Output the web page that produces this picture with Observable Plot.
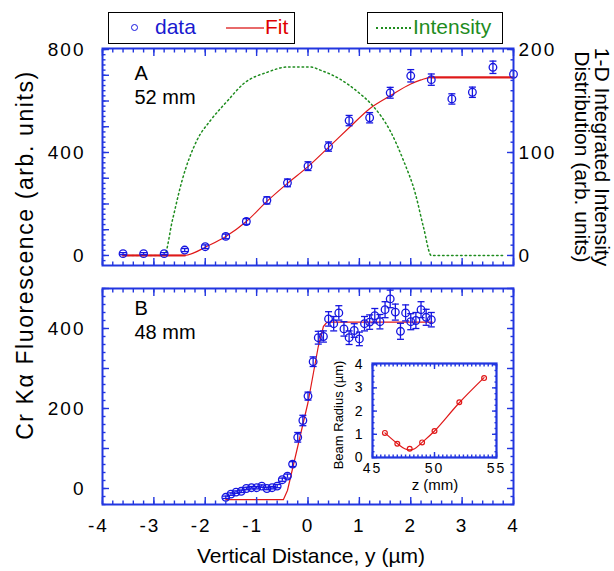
<!DOCTYPE html>
<html><head><meta charset="utf-8">
<script src="https://cdn.jsdelivr.net/npm/d3@7"></script>
<script src="https://cdn.jsdelivr.net/npm/@observablehq/plot@0.6"></script>
<style>
body{margin:0;background:#fff;font-family:"Liberation Sans",Arial,sans-serif;}
#root{position:relative;width:614px;height:571px;overflow:hidden;}
.abs{position:absolute;}
#root svg{position:absolute;overflow:visible;}
g[aria-label$="tick label"] text{letter-spacing:2px;}
.box{position:absolute;border:1px solid #000;box-sizing:border-box;height:32px;top:12px;background:#fff;}
</style></head><body><div id="root"></div>
<script>
// ---------- data ----------
// Panel A (52 mm): data points
const aX   = [-3.6,-3.2,-2.8,-2.4,-2.0,-1.6,-1.2,-0.8,-0.4,0.0,0.4,0.8,1.2,1.6,2.0,2.4,2.8,3.2,3.6,4.0];
const aY   = [7,7,7,21,34,74,132,214,282,347,423,524,535,632,698,683,608,634,731,704];
const aErr = [4,4,4,6,7,9,11,14,15,17,18,20,20,21,24,22,20,20,24,0];
// Panel A fit
const aFitX = [-3.6,-2.4,-2.2,-2.0,-1.6,-1.2,-0.8,-0.4,0.0,0.4,0.8,1.2,1.6,2.0,2.2,2.4,4.0];
const aFitY = [0,0,12,32,74,132,210,280,345,420,496,570,620,666,682,692,692];
// Panel A intensity (right axis, 0-200)
const intX = [-3.6,-2.8,-2.64,-2.45,-2.16,-1.9,-1.57,-1.25,-0.79,-0.4,-0.15,0.05,0.24,0.63,0.99,1.25,1.6,1.86,2.09,2.25,2.4,3.8];
const intY = [0,0,34,73,112,131,150,167,178,183,183,183,180,171,158,146,121,92,60,27,0,0];
// Panel B (48 mm): data points
const bX = [-1.6,-1.5,-1.4,-1.3,-1.2,-1.1,-1.0,-0.9,-0.8,-0.7,-0.6,-0.5,-0.4,-0.3,-0.2,-0.1,0.0,
            0.1,0.2,0.3,0.4,0.5,0.6,0.7,0.8,0.9,1.0,1.1,1.2,1.3,1.4,1.5,1.6,1.7,1.8,1.9,2.0,2.1,2.2,2.3,2.4];
const bY = [-22,-14,-9,-7,0,2,2,6,0,2,6,22,31,61,128,170,231,
            317,377,380,424,412,439,399,377,395,374,412,416,432,417,447,474,441,393,439,417,420,447,428,422];
const bErr = [3,3,3,3,3,3,3,3,3,3,4,4,5,6,12,13,10,
              12,16,14,18,18,18,18,17,17,17,18,18,18,18,20,22,20,20,20,20,20,20,20,18];
// Panel B fit
const bFitX = [-1.6,-0.48,-0.4,-0.3,-0.2,-0.1,0.0,0.1,0.2,0.3,0.37,2.42];
const bFitY = [-28,-28,-5,50,105,160,215,285,355,405,416,416];
// Inset: beam radius vs z
const zPts = [46,47,48,49,50,52,54];
const rPts = [1.06,0.59,0.38,0.65,1.14,2.38,3.42];
const zFit = [46,47,47.6,48,48.4,49,50,52,54];
const rFit = [1.06,0.6,0.38,0.33,0.38,0.65,1.14,2.36,3.44];
// tick labels
const xLabelsNeg = [-4,-3,-2,-1];
const xLabelsPos = [0,1,2,3,4];
const aLeftLabels = [0,400,800];
const aRightLabels = [0,100,200];
const bLeftLabels = [0,200,400];
const insetXLabels = [45,50,55];
const insetYLabels = [0,1,2,3,4];

// ---------- style ----------
const BLUE = "#2236e0", RED = "#e01818", PINK = "#e86a6a", GREEN = "#1e8c1e", PTBLUE = "#1616e0";
const FONT = "Liberation Sans, Arial, sans-serif";
const root = document.getElementById("root");

const ptsA = aX.map((x,i)=>({x, y:aY[i], e:aErr[i]}));
const fitA = aFitX.map((x,i)=>({x, y:aFitY[i]}));
const intA = intX.map((x,i)=>({x, v:intY[i]}));
const ptsB = bX.map((x,i)=>({x, y:bY[i], e:bErr[i]}));
const fitB = bFitX.map((x,i)=>({x, y:bFitY[i]}));
const ins = zPts.map((z,i)=>({z, r:rPts[i]}));
const insFit = zFit.map((z,i)=>({z, r:rFit[i]}));

const cap = {draw(ctx, size){ const w = Math.sqrt(size/Math.PI); ctx.moveTo(-w,0); ctx.lineTo(w,0); }};
const rng = (a,b,s) => d3.range(Math.round((b-a)/s)+1).map(i => +(a+i*s).toFixed(4));

function tickAxes(o){
  const s = {stroke: BLUE, fill: "none", strokeWidth: 1.4, label: null};
  return [
    Plot.axisX({...s, anchor:"bottom", ticks:o.xMin, tickSize:-o.min}),
    Plot.axisX({...s, anchor:"bottom", ticks:o.xMaj, tickSize:-o.maj}),
    Plot.axisX({...s, anchor:"top", ticks:o.xMin, tickSize:-o.min}),
    Plot.axisX({...s, anchor:"top", ticks:o.xMaj, tickSize:-o.maj}),
    Plot.axisY({...s, anchor:"left", ticks:o.yMin, tickSize:-o.min}),
    Plot.axisY({...s, anchor:"left", ticks:o.yMaj, tickSize:-o.maj}),
    Plot.axisY({...s, anchor:"right", ticks:o.yMinR, tickSize:-o.min}),
    Plot.axisY({...s, anchor:"right", ticks:o.yMajR, tickSize:-o.maj}),
  ];
}
function errMarks(pts){
  return [
    Plot.ruleX(pts, {x:"x", y1:d=>d.y-d.e, y2:d=>d.y+d.e, stroke:PTBLUE, strokeWidth:1.3, filter:d=>d.e>0}),
    Plot.dot(pts, {x:"x", y:d=>d.y+d.e, symbol:cap, r:3.5, stroke:PTBLUE, strokeWidth:1.3, filter:d=>d.e>0}),
    Plot.dot(pts, {x:"x", y:d=>d.y-d.e, symbol:cap, r:3.5, stroke:PTBLUE, strokeWidth:1.3, filter:d=>d.e>0}),
    Plot.dot(pts, {x:"x", y:"y", r:3.8, stroke:PTBLUE, strokeWidth:1.3, fill:"none"}),
  ];
}
const xMaj = rng(-4,4,1), xMin = rng(-4,4,0.2);

// ---------- Panel A ----------
const plotA = Plot.plot({
  width:614, height:290, marginTop:48, marginBottom:25, marginLeft:102, marginRight:101,
  style:{fontFamily:FONT, fontSize:"19px", color:"#000", background:"transparent"},
  x:{domain:[-4,4], label:null}, y:{domain:[-39,804], label:null},
  marks:[
    Plot.line(intA, {x:"x", y:d=>d.v*4, stroke:GREEN, strokeWidth:1.5, strokeDasharray:"1.5,3", curve:"monotone-x"}),
    Plot.line(fitA, {x:"x", y:"y", z:d=>d.x<0?"lo":"hi", filter:d=>d.x<=-2.4||d.x>=2.4, stroke:PINK, strokeWidth:2.6}),
    Plot.line(fitA, {x:"x", y:"y", stroke:RED, strokeWidth:1.2, curve:"monotone-x"}),
    ...errMarks(ptsA),
    Plot.frame({stroke:BLUE, strokeWidth:2}),
    ...tickAxes({xMaj, xMin, maj:7, min:3.5,
      yMaj:rng(0,800,100), yMin:rng(-20,800,20), yMajR:rng(0,800,400), yMinR:rng(0,800,40)}),
    Plot.axisY({anchor:"left", ticks:aLeftLabels, tickFormat:d=>String(d), tickSize:0, tickPadding:17, label:null}),
    Plot.axisY({anchor:"right", ticks:aLeftLabels, tickFormat:(d,i)=>String(aRightLabels[i]), tickSize:0, tickPadding:5, label:null}),
    Plot.text(["A"], {frameAnchor:"top-left", dx:32, dy:17, lineAnchor:"top", fontSize:20}),
    Plot.text(["52 mm"], {frameAnchor:"top-left", dx:32, dy:41, lineAnchor:"top", fontSize:20}),
  ]
});
plotA.style.left = "0px"; plotA.style.top = "0px";
root.appendChild(plotA);

// ---------- Panel B ----------
const plotB = Plot.plot({
  width:614, height:301, marginTop:18, marginBottom:67, marginLeft:102, marginRight:101,
  style:{fontFamily:FONT, fontSize:"19px", color:"#000", background:"transparent"},
  x:{domain:[-4,4], label:null}, y:{domain:[-40,500], label:null},
  marks:[
    Plot.line(fitB, {x:"x", y:"y", stroke:RED, strokeWidth:1.2}),
    ...errMarks(ptsB),
    Plot.frame({stroke:BLUE, strokeWidth:2}),
    ...tickAxes({xMaj, xMin, maj:7, min:3.5,
      yMaj:rng(0,500,100), yMin:rng(-40,500,20), yMajR:rng(0,500,100), yMinR:rng(-40,500,20)}),
    Plot.axisY({anchor:"left", ticks:bLeftLabels, tickFormat:d=>String(d), tickSize:0, tickPadding:17, label:null}),
    Plot.axisX({anchor:"bottom", ticks:xLabelsNeg, tickFormat:d=>"-"+(-d), dx:-4, tickSize:0, tickPadding:14, label:null}),
    Plot.axisX({anchor:"bottom", ticks:xLabelsPos, tickFormat:d=>String(d), tickSize:0, tickPadding:14, label:null}),
    Plot.text(["B"], {frameAnchor:"top-left", dx:32, dy:12, lineAnchor:"top", fontSize:20}),
    Plot.text(["48 mm"], {frameAnchor:"top-left", dx:32, dy:36, lineAnchor:"top", fontSize:20}),
  ]
});
plotB.style.left = "0px"; plotB.style.top = "270px";
root.appendChild(plotB);

// ---------- Inset ----------
const plotI = Plot.plot({
  width:179, height:135, marginTop:6, marginBottom:35, marginLeft:45, marginRight:10,
  style:{fontFamily:FONT, fontSize:"14px", color:"#000", background:"transparent"},
  x:{domain:[45,55], label:null}, y:{domain:[0,4.05], label:null},
  marks:[
    Plot.line(insFit, {x:"z", y:"r", stroke:RED, strokeWidth:1.2, curve:"catmull-rom"}),
    Plot.dot(ins, {x:"z", y:"r", r:2.4, stroke:RED, strokeWidth:1.2, fill:"none"}),
    Plot.frame({stroke:BLUE, strokeWidth:2.2}),
    ...tickAxes({xMaj:[45,50,55], xMin:rng(45,55,1/3), maj:5, min:2.5,
      yMaj:rng(0,4,1), yMin:rng(0,4,0.25), yMajR:rng(0,4,1), yMinR:rng(0,4,0.25)}),
    Plot.axisX({anchor:"bottom", ticks:insetXLabels, tickFormat:d=>String(d), tickSize:0, tickPadding:6, label:null}),
    Plot.axisY({anchor:"left", ticks:insetYLabels, tickFormat:d=>String(d), tickSize:0, tickPadding:8, label:null}),
  ]
});
plotI.style.left = "327px"; plotI.style.top = "357px";
root.appendChild(plotI);

// ---------- HTML text: titles & legend ----------
function div(cls, css, text){ const d = document.createElement("div"); d.className = cls; d.style.cssText = css; if (text!=null) d.textContent = text; root.appendChild(d); return d; }
div("abs", "left:25px;top:255px;transform:translate(-50%,-50%) rotate(-90deg);font-size:23px;letter-spacing:1.6px;white-space:nowrap;", "Cr K\u03b1 Fluorescence (arb. units)");
const rt = div("abs", "left:592px;top:157px;transform:translate(-50%,-50%) rotate(90deg);font-size:21px;line-height:20px;white-space:nowrap;text-align:center;");
rt.innerHTML = "1-D Integrated Intensity<br>Distribution (arb. units)";
div("abs", "left:311px;top:545px;transform:translateX(-50%);font-size:21px;line-height:21px;white-space:nowrap;", "Vertical Distance, y (\u00b5m)");
div("abs", "left:435px;top:477px;transform:translateX(-50%);font-size:15px;line-height:15px;white-space:nowrap;", "z (mm)");
div("abs", "left:338px;top:415px;transform:translate(-50%,-50%) rotate(-90deg);font-size:13px;line-height:13px;white-space:nowrap;", "Beam Radius (\u00b5m)");

const b1 = div("box", "left:108px;width:187px;");
const b2 = div("box", "left:367px;width:136px;");
function add(parent, css, text){ const d = document.createElement("div"); d.style.cssText = "position:absolute;"+css; if (text!=null) d.textContent = text; parent.appendChild(d); return d; }
add(b1, "left:22px;top:11px;width:7px;height:7px;border:1.4px solid "+PTBLUE+";border-radius:50%;box-sizing:border-box;");
add(b1, "left:46px;top:3px;font-size:21px;line-height:21px;color:#1a1ad0;", "data");
add(b1, "left:117px;top:14px;width:38px;height:2px;background:"+PINK+";");
add(b1, "left:156px;top:3px;font-size:21px;line-height:21px;color:#e00000;", "Fit");
add(b2, "left:8px;top:14px;width:35px;height:0;border-top:2px dotted "+GREEN+";");
add(b2, "left:45px;top:3px;font-size:21px;line-height:21px;color:"+GREEN+";", "Intensity");
</script>
</body></html>
